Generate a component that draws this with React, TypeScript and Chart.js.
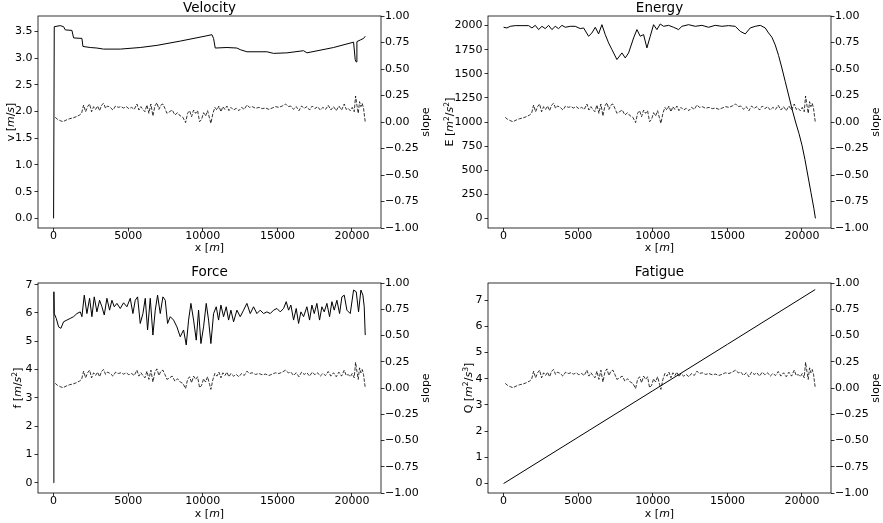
import React, { useEffect, useRef } from 'react';
import { Chart, registerables } from 'chart.js';
Chart.register(...registerables);

// ---------- data ----------
const xTicks = [0, 5000, 10000, 15000, 20000];
const slopeTicks = [-1, -0.75, -0.5, -0.25, 0, 0.25, 0.5, 0.75, 1];
const velocityTicks = [0, 0.5, 1, 1.5, 2, 2.5, 3, 3.5];
const energyTicks = [0, 250, 500, 750, 1000, 1250, 1500, 1750, 2000];
const forceTicks = [0, 1, 2, 3, 4, 5, 6, 7];
const fatigueTicks = [0, 1, 2, 3, 4, 5, 6, 7];

const slopeX = [112, 268, 447, 626, 849, 1072, 1296, 1519, 1743, 1877, 2011, 2145, 2279, 2413, 2547, 2681, 2815, 2949, 3083, 3217, 3351, 3485, 3619, 3798, 3977, 4155, 4334, 4513, 4691, 4870, 5049, 5228, 5406, 5585, 5719, 5853, 5987, 6121, 6255, 6389, 6523, 6657, 6791, 6925, 7059, 7193, 7327, 7461, 7595, 7774, 7953, 8132, 8310, 8489, 8668, 8847, 8981, 9115, 9249, 9383, 9517, 9651, 9785, 9919, 10053, 10187, 10321, 10455, 10544, 10678, 10813, 10947, 11081, 11215, 11349, 11483, 11617, 11751, 11885, 12064, 12242, 12421, 12600, 12779, 12957, 13136, 13315, 13538, 13762, 13985, 14208, 14432, 14655, 14878, 15102, 15325, 15548, 15727, 15906, 16085, 16263, 16442, 16621, 16800, 16978, 17157, 17336, 17515, 17693, 17872, 18051, 18230, 18408, 18587, 18766, 18945, 19123, 19302, 19481, 19615, 19749, 19883, 20017, 20151, 20240, 20330, 20419, 20508, 20598, 20687, 20776, 20843, 20888];
const slopeY = [0.044, 0.025, 0.013, 0.003, 0.019, 0.031, 0.038, 0.05, 0.066, 0.082, 0.16, 0.097, 0.145, 0.17, 0.097, 0.145, 0.119, 0.151, 0.107, 0.16, 0.176, 0.129, 0.151, 0.138, 0.113, 0.151, 0.138, 0.145, 0.132, 0.145, 0.126, 0.138, 0.119, 0.17, 0.113, 0.145, 0.119, 0.097, 0.16, 0.082, 0.17, 0.057, 0.151, 0.182, 0.119, 0.16, 0.17, 0.129, 0.082, 0.097, 0.113, 0.066, 0.088, 0.057, 0.044, -0.006, 0.082, 0.107, 0.05, 0.113, 0.082, 0.107, 0.003, 0.025, 0.088, 0.057, 0.107, 0.034, -0.013, 0.082, 0.138, 0.113, 0.151, 0.097, 0.145, 0.119, 0.151, 0.107, 0.138, 0.113, 0.129, 0.107, 0.138, 0.119, 0.16, 0.138, 0.145, 0.129, 0.138, 0.126, 0.132, 0.119, 0.132, 0.145, 0.138, 0.151, 0.17, 0.145, 0.151, 0.119, 0.145, 0.107, 0.151, 0.129, 0.145, 0.113, 0.151, 0.126, 0.145, 0.113, 0.138, 0.119, 0.157, 0.113, 0.145, 0.107, 0.151, 0.113, 0.17, 0.119, 0.129, 0.107, 0.138, 0.097, 0.245, 0.16, 0.082, 0.192, 0.145, 0.176, 0.129, 0.05, 0.003];

const velocityX = [0, 45, 447, 670, 782, 1229, 1340, 1899, 1966, 2457, 2904, 3351, 4468, 5808, 6925, 8489, 10276, 10612, 10723, 10835, 11617, 12287, 12510, 12957, 14298, 14744, 15638, 16755, 16978, 18766, 20106, 20218, 20285, 20330, 20553, 20776, 20888];
const velocityY = [0, 3.59, 3.61, 3.59, 3.53, 3.52, 3.38, 3.37, 3.22, 3.2, 3.19, 3.17, 3.17, 3.2, 3.24, 3.32, 3.42, 3.44, 3.37, 3.19, 3.2, 3.19, 3.16, 3.12, 3.12, 3.09, 3.1, 3.14, 3.1, 3.2, 3.3, 2.97, 2.93, 3.31, 3.34, 3.37, 3.41];

const energyX = [0, 223, 447, 782, 1229, 1676, 1899, 2122, 2346, 2569, 2793, 3016, 3239, 3463, 3686, 3910, 4133, 4468, 4803, 5138, 5362, 5697, 5920, 6144, 6367, 6590, 6814, 7037, 7261, 7596, 7931, 8154, 8378, 8713, 8936, 9159, 9383, 9606, 9830, 10053, 10276, 10500, 10723, 11058, 11393, 11729, 11952, 12399, 12846, 13292, 13739, 14186, 14633, 15080, 15526, 15861, 16197, 16532, 16867, 17202, 17537, 17760, 17984, 18207, 18431, 18654, 18877, 19101, 19324, 19570, 19800, 20000, 20200, 20400, 20600, 20800, 20900];
const energyY = [1983, 1976, 1993, 2000, 2000, 2000, 1976, 2003, 1959, 1993, 1969, 2003, 1959, 1993, 1969, 2003, 1983, 1993, 1993, 1969, 1976, 1890, 1924, 1983, 1914, 2010, 1907, 1821, 1752, 1648, 1717, 1665, 1717, 1872, 1959, 1890, 1907, 1769, 1890, 2010, 1959, 2017, 1993, 2003, 1983, 1959, 1993, 2010, 1993, 2003, 1983, 2003, 1993, 2000, 1993, 1941, 1914, 1976, 1993, 2003, 1976, 1924, 1880, 1800, 1690, 1560, 1420, 1280, 1140, 1000, 880, 760, 610, 440, 270, 100, 0];

const forceX = [0, 20, 45, 179, 335, 491, 670, 894, 1117, 1340, 1564, 1787, 1899, 2055, 2234, 2413, 2569, 2725, 2904, 3083, 3239, 3396, 3574, 3753, 3910, 4066, 4245, 4468, 4691, 4915, 5138, 5317, 5473, 5630, 5808, 5987, 6144, 6300, 6479, 6657, 6814, 6970, 7149, 7328, 7484, 7640, 7819, 8042, 8266, 8489, 8713, 8891, 9048, 9204, 9383, 9562, 9718, 9874, 10053, 10232, 10388, 10544, 10723, 10902, 11058, 11215, 11393, 11572, 11729, 11885, 12064, 12287, 12510, 12734, 12957, 13181, 13404, 13627, 13851, 14074, 14298, 14521, 14744, 14968, 15191, 15415, 15593, 15750, 15906, 16085, 16263, 16420, 16576, 16755, 16978, 17157, 17314, 17470, 17649, 17827, 17984, 18140, 18319, 18498, 18654, 18810, 18989, 19168, 19324, 19481, 19659, 19883, 20106, 20285, 20441, 20598, 20732, 20821, 20888];
const forceY = [0, 6.75, 5.98, 5.81, 5.51, 5.46, 5.69, 5.75, 5.81, 5.87, 5.98, 6.04, 5.87, 6.63, 5.98, 6.52, 5.87, 6.57, 6.04, 6.45, 6.22, 5.93, 6.52, 6.1, 6.45, 6.22, 6.34, 6.16, 6.36, 6.22, 6.52, 5.98, 6.45, 6.57, 5.63, 5.98, 6.52, 5.4, 6.52, 5.22, 6.1, 6.63, 5.98, 6.57, 6.45, 5.63, 5.87, 5.75, 5.51, 5.16, 5.4, 4.87, 5.75, 6.34, 5.75, 5.04, 6.1, 4.92, 5.51, 6.34, 5.75, 4.92, 5.98, 6.22, 5.75, 6.28, 5.87, 6.22, 5.75, 6.1, 5.69, 6.1, 5.87, 6.1, 6.34, 5.98, 6.22, 5.98, 6.1, 5.98, 6.04, 5.98, 6.1, 6.16, 6.04, 6.16, 6.4, 6.1, 6.28, 5.75, 6.16, 5.63, 6.04, 5.87, 6.22, 5.75, 6.28, 5.98, 6.34, 5.75, 6.22, 6.04, 6.34, 5.87, 6.4, 6.1, 6.45, 5.98, 6.57, 6.63, 6.1, 5.98, 6.81, 6.75, 6.04, 6.81, 6.63, 6.22, 5.22];

const fatigueX = [0, 5000, 10000, 15000, 20888];
const fatigueY = [0, 1.77, 3.54, 5.31, 7.4];

// ---------- styling ----------
const FONT = '"DejaVu Sans", "Liberation Sans", sans-serif';
const TICK_SIZE = 11;
const LABEL_SIZE = 11;
const TITLE_SIZE = 13.5;

type Seg = { t: string; it?: boolean; sup?: boolean };

function drawRich(ctx: CanvasRenderingContext2D, segs: Seg[], x: number, y: number, rot: number, size: number) {
  ctx.save();
  ctx.translate(x, y);
  ctx.rotate(rot);
  const fontFor = (s: Seg) => `${s.it ? 'italic ' : ''}${s.sup ? size * 0.7 : size}px ${FONT}`;
  const widths = segs.map((s) => {
    ctx.font = fontFor(s);
    return ctx.measureText(s.t).width;
  });
  const total = widths.reduce((a, b) => a + b, 0);
  let cx = -total / 2;
  ctx.textAlign = 'left';
  ctx.textBaseline = 'alphabetic';
  ctx.fillStyle = '#000';
  const base = size * 0.36;
  segs.forEach((s, i) => {
    ctx.font = fontFor(s);
    ctx.fillText(s.t, cx, s.sup ? base - size * 0.38 : base);
    cx += widths[i];
  });
  ctx.restore();
}

type Box = { x: number; y: number; w: number; h: number };
type Area = { l: number; r: number; t: number; b: number };
type Panel = {
  title: string;
  xs: number[];
  ys: number[];
  yTicks: number[];
  yFmt: (v: number) => string;
  yMin: number;
  yMax: number;
  ylabel: Seg[];
  cell: Box;
  area: Area;
  titleY: number;
  ylabelX: number;
  slopeLabelX: number;
  xlabelY: number;
};

const slopeFmt = (v: number) => (v < 0 ? '\u2212' : '') + Math.abs(v).toFixed(2);

const panels: Panel[] = [
  {
    title: 'Velocity', xs: velocityX, ys: velocityY, yTicks: velocityTicks, yFmt: (v) => v.toFixed(1),
    yMin: -0.18, yMax: 3.79,
    ylabel: [{ t: 'v [' }, { t: 'm', it: true }, { t: '/' }, { t: 's', it: true }, { t: ']' }],
    cell: { x: 0, y: 0, w: 441, h: 262 }, area: { l: 38, r: 381, t: 16, b: 228 },
    titleY: 8, ylabelX: 10, slopeLabelX: 425, xlabelY: 247,
  },
  {
    title: 'Energy', xs: energyX, ys: energyY, yTicks: energyTicks, yFmt: (v) => String(v),
    yMin: -100, yMax: 2100,
    ylabel: [{ t: 'E [' }, { t: 'm', it: true }, { t: '2', sup: true }, { t: '/' }, { t: 's', it: true }, { t: '2', sup: true }, { t: ']' }],
    cell: { x: 441, y: 0, w: 442, h: 262 }, area: { l: 488, r: 831, t: 16, b: 228 },
    titleY: 8, ylabelX: 449, slopeLabelX: 875, xlabelY: 247,
  },
  {
    title: 'Force', xs: forceX, ys: forceY, yTicks: forceTicks, yFmt: (v) => String(v),
    yMin: -0.36, yMax: 7.06,
    ylabel: [{ t: 'f [' }, { t: 'm', it: true }, { t: '/' }, { t: 's', it: true }, { t: '2', sup: true }, { t: ']' }],
    cell: { x: 0, y: 262, w: 441, h: 261 }, area: { l: 38, r: 381, t: 283, b: 493 },
    titleY: 272, ylabelX: 17, slopeLabelX: 425, xlabelY: 513,
  },
  {
    title: 'Fatigue', xs: fatigueX, ys: fatigueY, yTicks: fatigueTicks, yFmt: (v) => String(v),
    yMin: -0.36, yMax: 7.65,
    ylabel: [{ t: 'Q [' }, { t: 'm', it: true }, { t: '2', sup: true }, { t: '/' }, { t: 's', it: true }, { t: '3', sup: true }, { t: ']' }],
    cell: { x: 441, y: 262, w: 442, h: 261 }, area: { l: 488, r: 831, t: 283, b: 493 },
    titleY: 272, ylabelX: 468, slopeLabelX: 875, xlabelY: 513,
  },
];

function PanelChart({ p }: { p: Panel }) {
  const ref = useRef<HTMLCanvasElement>(null);
  useEffect(() => {
    const cv = ref.current!;
    const { cell, area } = p;
    const grid = { drawOnChartArea: false, drawTicks: true, tickLength: 3.5, color: '#000', lineWidth: 0.8 };
    const tickFont = { family: FONT, size: TICK_SIZE };
    const decor = {
      id: 'decor',
      afterDraw(chart: any) {
        const ctx: CanvasRenderingContext2D = chart.ctx;
        const a = chart.chartArea;
        ctx.save();
        ctx.strokeStyle = '#000';
        ctx.lineWidth = 0.8;
        ctx.strokeRect(a.left, a.top, a.right - a.left, a.bottom - a.top);
        ctx.fillStyle = '#000';
        ctx.font = `${TITLE_SIZE}px ${FONT}`;
        ctx.textAlign = 'center';
        ctx.textBaseline = 'middle';
        ctx.fillText(p.title, (a.left + a.right) / 2, p.titleY - cell.y);
        ctx.restore();
        const midY = (a.top + a.bottom) / 2;
        drawRich(ctx, p.ylabel, p.ylabelX - cell.x, midY, -Math.PI / 2, LABEL_SIZE);
        drawRich(ctx, [{ t: 'slope' }], p.slopeLabelX - cell.x, midY, -Math.PI / 2, LABEL_SIZE);
        drawRich(ctx, [{ t: 'x [' }, { t: 'm', it: true }, { t: ']' }], (a.left + a.right) / 2, p.xlabelY - cell.y, 0, LABEL_SIZE);
      },
    };
    const chart = new Chart(cv, {
      type: 'line',
      data: {
        datasets: [
          {
            data: slopeX.map((x, i) => ({ x, y: slopeY[i] })),
            yAxisID: 'y2',
            borderColor: '#000',
            borderWidth: 0.8,
            borderDash: [3.5, 1.5],
            pointRadius: 0,
            tension: 0,
            fill: false,
          },
          {
            data: p.xs.map((x, i) => ({ x, y: p.ys[i] })),
            yAxisID: 'y',
            borderColor: '#000',
            borderWidth: 1,
            pointRadius: 0,
            tension: 0,
            fill: false,
          },
        ],
      },
      options: {
        animation: false,
        responsive: false,
        devicePixelRatio: 1,
        events: [],
        layout: { padding: { top: area.t - cell.y, left: 0, right: 0, bottom: 0 } },
        plugins: { legend: { display: false }, tooltip: { enabled: false }, title: { display: false } },
        scales: {
          x: {
            type: 'linear',
            min: -1045,
            max: 21945,
            afterBuildTicks: (s: any) => { s.ticks = xTicks.map((v) => ({ value: v })); },
            afterFit: (s: any) => { s.height = cell.y + cell.h - area.b; },
            ticks: { callback: (v: any) => String(v), font: tickFont, color: '#000', padding: -2, maxRotation: 0, autoSkip: false },
            grid,
            border: { display: false },
          },
          y: {
            type: 'linear',
            position: 'left',
            min: p.yMin,
            max: p.yMax,
            afterBuildTicks: (s: any) => { s.ticks = p.yTicks.map((v) => ({ value: v })); },
            afterFit: (s: any) => { s.width = area.l - cell.x; },
            ticks: { callback: (v: any) => p.yFmt(Number(v)), font: tickFont, color: '#000', padding: 2, autoSkip: false },
            grid,
            border: { display: false },
          },
          y2: {
            type: 'linear',
            position: 'right',
            min: -1,
            max: 1,
            afterBuildTicks: (s: any) => { s.ticks = slopeTicks.map((v) => ({ value: v })); },
            afterFit: (s: any) => { s.width = cell.x + cell.w - area.r; },
            ticks: { callback: (v: any) => slopeFmt(Number(v)), font: tickFont, color: '#000', padding: 0.5, autoSkip: false },
            grid,
            border: { display: false },
          },
        },
      } as any,
      plugins: [decor],
    });
    return () => chart.destroy();
  }, [p]);
  return (
    <canvas
      ref={ref}
      width={p.cell.w}
      height={p.cell.h}
      style={{ position: 'absolute', left: p.cell.x, top: p.cell.y, width: p.cell.w, height: p.cell.h }}
    />
  );
}

export default function App() {
  return (
    <div style={{ position: 'absolute', left: 0, top: 0, width: 883, height: 523, background: '#fff' }}>
      {panels.map((p) => (
        <PanelChart key={p.title} p={p} />
      ))}
    </div>
  );
}
